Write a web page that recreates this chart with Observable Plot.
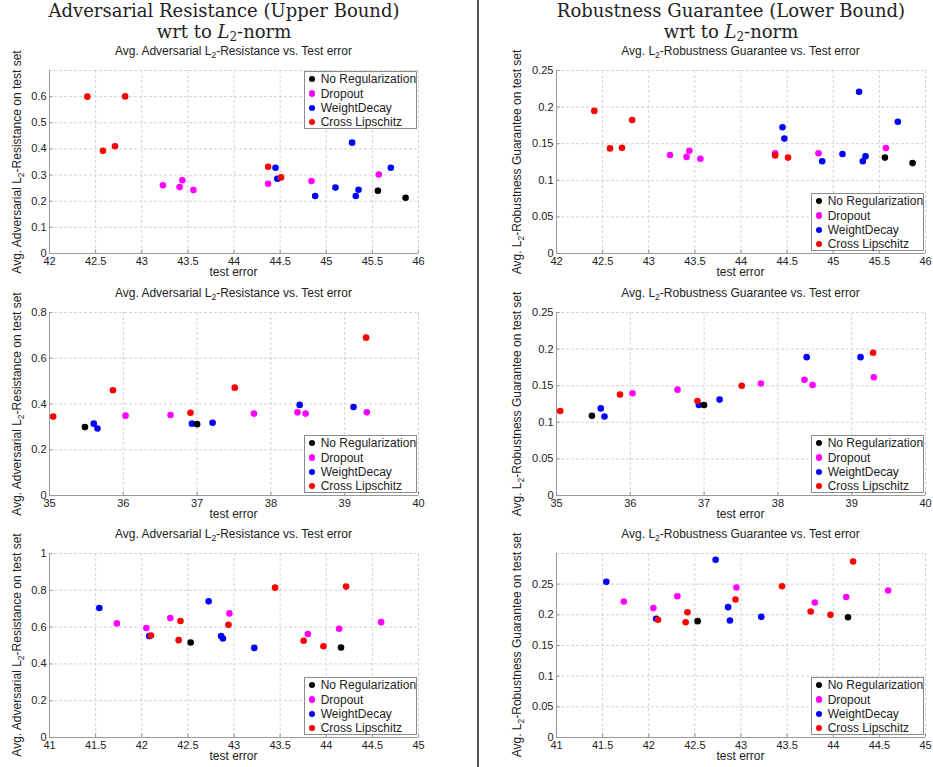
<!DOCTYPE html>
<html><head><meta charset="utf-8">
<script src="https://cdn.jsdelivr.net/npm/d3@7"></script>
<script src="https://cdn.jsdelivr.net/npm/@observablehq/plot@0.6"></script>
<style>
body{margin:0;background:#fff;}
#fig{position:relative;width:933px;height:767px;overflow:hidden;font-family:"Liberation Sans",Arial,sans-serif;color:#222;background:#fff;}
.abs{position:absolute;}
.title{font-family:"DejaVu Serif",serif;font-size:18px;text-align:center;white-space:nowrap;line-height:21px;color:#222;}
.title sub{font-size:12px;vertical-align:-3px;line-height:0;}
.sub{font-size:12px;line-height:14px;white-space:nowrap;text-align:center;}
.sub sub{font-size:8.5px;vertical-align:-3px;line-height:0;}
.ylab{font-size:12px;line-height:14px;height:14px;width:300px;text-align:center;white-space:nowrap;transform:rotate(-90deg);}
.ylab sub{font-size:8.5px;vertical-align:-3px;line-height:0;}
.legend{background:#fff;border:1px solid #8c8c8c;box-sizing:border-box;font-size:12px;}
.legend .row{position:absolute;left:0;white-space:nowrap;line-height:14px;height:14px;}
.legend .dotc{position:absolute;width:6.4px;height:6.4px;border-radius:50%;}
svg{position:absolute;overflow:visible;}
</style>
</head><body>
<div id="fig"></div>
<script>
// ---- categories & colours ----
const categories = ["No Regularization", "Dropout", "WeightDecay", "Cross Lipschitz"];
const colors = ["#000000", "#ff00ff", "#0000ff", "#ff0000"];
const drawOrder = [1, 2, 3, 0];

// ---- Row 1 data (test error, resistance, guarantee) ----
const err1_none = [45.56, 45.86];
const err1_dropout = [43.23, 43.41, 43.44, 43.56, 44.37, 44.84, 45.57];
const err1_wd = [44.45, 44.47, 44.88, 45.10, 45.28, 45.32, 45.35, 45.70];
const err1_cl = [42.41, 42.82, 42.58, 42.71, 44.37, 44.51];
const res1_none = [0.240, 0.213];
const res1_dropout = [0.261, 0.254, 0.280, 0.243, 0.267, 0.277, 0.302];
const res1_wd = [0.328, 0.286, 0.220, 0.252, 0.424, 0.220, 0.244, 0.328];
const res1_cl = [0.600, 0.601, 0.393, 0.410, 0.332, 0.291];
const gua1_none = [0.131, 0.1235];
const gua1_dropout = [0.1345, 0.132, 0.1404, 0.1295, 0.137, 0.137, 0.144];
const gua1_wd = [0.1724, 0.157, 0.126, 0.136, 0.221, 0.126, 0.1327, 0.180];
const gua1_cl = [0.1948, 0.1824, 0.1436, 0.1445, 0.134, 0.131];

// ---- Row 2 data ----
const err2_none = [35.48, 37.00];
const err2_dropout = [36.03, 36.64, 37.77, 38.36, 38.47, 39.30];
const err2_wd = [35.60, 35.65, 36.93, 37.21, 38.39, 39.12];
const err2_cl = [35.05, 35.86, 36.91, 37.51, 39.29];
const res2_none = [0.299, 0.312];
const res2_dropout = [0.349, 0.352, 0.358, 0.3635, 0.358, 0.3635];
const res2_wd = [0.314, 0.293, 0.314, 0.318, 0.396, 0.387];
const res2_cl = [0.345, 0.460, 0.362, 0.4715, 0.690];
const gua2_none = [0.109, 0.1236];
const gua2_dropout = [0.1396, 0.1446, 0.153, 0.158, 0.151, 0.1615];
const gua2_wd = [0.119, 0.108, 0.1236, 0.131, 0.189, 0.189];
const gua2_cl = [0.1154, 0.138, 0.129, 0.150, 0.195];

// ---- Row 3 data ----
const err3_none = [42.53, 44.16];
const err3_dropout = [41.73, 42.05, 42.31, 42.95, 43.80, 44.14, 44.595];
const err3_wd = [41.54, 42.08, 42.725, 42.86, 42.88, 43.22];
const err3_cl = [42.10, 42.40, 42.42, 42.94, 43.445, 43.755, 43.97, 44.215];
const res3_none = [0.516, 0.489];
const res3_dropout = [0.620, 0.595, 0.649, 0.6745, 0.562, 0.591, 0.627];
const res3_wd = [0.704, 0.551, 0.740, 0.551, 0.538, 0.487];
const res3_cl = [0.5545, 0.529, 0.633, 0.613, 0.8145, 0.5255, 0.496, 0.820];
const gua3_none = [0.1897, 0.196];
const gua3_dropout = [0.2217, 0.211, 0.2304, 0.2446, 0.220, 0.229, 0.2397];
const gua3_wd = [0.2538, 0.1935, 0.2897, 0.2125, 0.1908, 0.1967];
const gua3_cl = [0.1918, 0.188, 0.2043, 0.225, 0.2467, 0.2054, 0.200, 0.287];

// ---- tick labels ----
const xTicks1 = [42, 42.5, 43, 43.5, 44, 44.5, 45, 45.5, 46];
const xTicks2 = [35, 36, 37, 38, 39, 40];
const xTicks3 = [41, 41.5, 42, 42.5, 43, 43.5, 44, 44.5, 45];
const yTicksRes1 = [0, 0.1, 0.2, 0.3, 0.4, 0.5, 0.6];
const yTicksRes2 = [0, 0.2, 0.4, 0.6, 0.8];
const yTicksRes3 = [0, 0.2, 0.4, 0.6, 0.8, 1];
const yTicksGua = [0, 0.05, 0.1, 0.15, 0.2, 0.25];

// ---- texts ----
const titleLeft = ["Adversarial Resistance (Upper Bound)", "wrt to <i>L</i><sub>2</sub>-norm"];
const titleRight = ["Robustness Guarantee (Lower Bound)", "wrt to <i>L</i><sub>2</sub>-norm"];
const subLeft = "Avg. Adversarial L<sub>2</sub>-Resistance vs. Test error";
const subRight = "Avg. L<sub>2</sub>-Robustness Guarantee vs. Test error";
const yLabLeft = "Avg. Adversarial L<sub>2</sub>-Resistance on test set";
const yLabRight = "Avg. L<sub>2</sub>-Robustness Guarantee on test set";
const xLab = "test error";

// ---- layout ----
const colFrameLeft = [49, 556], frameW = 369;
const colSvgLeft = [0, 478], colSvgW = [470, 455];
const rowFrameTop = [70, 312, 553], rowFrameH = [183, 183, 184];
const colCenterTitle = [224, 731];
const yLabCx = [17, 517];

function rows(errs, vals) {
  const out = [];
  for (const i of drawOrder) errs[i].forEach((e, j) => out.push({err: e, val: vals[i][j], cat: categories[i]}));
  return out;
}

const panels = [
  {col: 0, row: 0, data: rows([err1_none, err1_dropout, err1_wd, err1_cl], [res1_none, res1_dropout, res1_wd, res1_cl]), xDomain: [42, 46], xTicks: xTicks1, yDomain: [0, 0.7], yTicks: yTicksRes1, legend: "top"},
  {col: 1, row: 0, data: rows([err1_none, err1_dropout, err1_wd, err1_cl], [gua1_none, gua1_dropout, gua1_wd, gua1_cl]), xDomain: [42, 46], xTicks: xTicks1, yDomain: [0, 0.25], yTicks: yTicksGua, legend: "bottom"},
  {col: 0, row: 1, data: rows([err2_none, err2_dropout, err2_wd, err2_cl], [res2_none, res2_dropout, res2_wd, res2_cl]), xDomain: [35, 40], xTicks: xTicks2, yDomain: [0, 0.8], yTicks: yTicksRes2, legend: "bottom"},
  {col: 1, row: 1, data: rows([err2_none, err2_dropout, err2_wd, err2_cl], [gua2_none, gua2_dropout, gua2_wd, gua2_cl]), xDomain: [35, 40], xTicks: xTicks2, yDomain: [0, 0.25], yTicks: yTicksGua, legend: "bottom"},
  {col: 0, row: 2, data: rows([err3_none, err3_dropout, err3_wd, err3_cl], [res3_none, res3_dropout, res3_wd, res3_cl]), xDomain: [41, 45], xTicks: xTicks3, yDomain: [0, 1], yTicks: yTicksRes3, legend: "bottom"},
  {col: 1, row: 2, data: rows([err3_none, err3_dropout, err3_wd, err3_cl], [gua3_none, gua3_dropout, gua3_wd, gua3_cl]), xDomain: [41, 45], xTicks: xTicks3, yDomain: [0, 0.3], yTicks: yTicksGua, legend: "bottom"}
];

const fig = document.getElementById("fig");
function addDiv(cls, html, style) {
  const d = document.createElement("div");
  d.className = "abs " + cls;
  d.innerHTML = html;
  Object.assign(d.style, style);
  fig.appendChild(d);
  return d;
}

// divider
addDiv("", "", {left: "477px", top: "0px", width: "2px", height: "767px", background: "#555"});

// titles
[titleLeft, titleRight].forEach((t, c) => {
  addDiv("title", t.join("<br>"), {left: (colCenterTitle[c] - 250) + "px", width: "500px", top: "0px"});
});

const axisColor = "#999";
const gridStyle = {stroke: "#d4d4d4", strokeOpacity: 1, strokeDasharray: "3,2"};

for (const p of panels) {
  const ft = rowFrameTop[p.row], fh = rowFrameH[p.row];
  const fl = colFrameLeft[p.col];
  const svgLeft = colSvgLeft[p.col], svgW = colSvgW[p.col];
  const mt = 10, mb = 22;
  const [x0, x1] = p.xDomain, [y0, y1] = p.yDomain;
  const yGrid = p.yTicks.includes(y1) ? p.yTicks : [...p.yTicks, y1];
  const xGrid = p.xTicks.includes(x1) ? p.xTicks : [...p.xTicks, x1];
  const chart = Plot.plot({
    width: svgW, height: fh + mt + mb,
    marginLeft: fl - svgLeft, marginRight: svgLeft + svgW - (fl + frameW),
    marginTop: mt, marginBottom: mb,
    x: {domain: p.xDomain, label: null},
    y: {domain: p.yDomain, label: null},
    color: {domain: categories, range: colors},
    style: {fontFamily: '"Liberation Sans", Arial, sans-serif', fontSize: "11px", color: "#222", background: "transparent", overflow: "visible"},
    marks: [
      Plot.gridX(xGrid, gridStyle),
      Plot.gridY(yGrid, gridStyle),
      Plot.ruleX([x0], {stroke: axisColor}),
      Plot.ruleY([y0], {stroke: axisColor}),
      Plot.ruleY(p.yTicks, {y: d => d, x1: x0, x2: x0 + (x1 - x0) * 0.01, stroke: axisColor}),
      Plot.ruleX(p.xTicks, {x: d => d, y1: y0, y2: y0 + (y1 - y0) * 0.02, stroke: axisColor}),
      Plot.axisX(p.xTicks, {tickSize: 0, tickPadding: 4, tickFormat: d => String(d), label: null, fill: "#222"}),
      Plot.axisY(p.yTicks, {tickSize: 0, tickPadding: 3, tickFormat: d => String(d), label: null, fill: "#222"}),
      Plot.dot(p.data, {x: "err", y: "val", fill: "cat", r: 3.3})
    ]
  });
  chart.style.left = svgLeft + "px";
  chart.style.top = (ft - mt) + "px";
  fig.appendChild(chart);

  const cx = fl + frameW / 2;
  // subtitle
  addDiv("sub", p.col === 0 ? subLeft : subRight, {left: (cx - 200) + "px", width: "400px", top: (ft - 26.5) + "px"});
  // x label
  addDiv("sub", xLab, {left: (cx - 100) + "px", width: "200px", top: (ft + fh + 12) + "px"});
  // y label
  addDiv("ylab", p.col === 0 ? yLabLeft : yLabRight, {left: (yLabCx[p.col] - 150) + "px", top: (ft + fh / 2 - 7) + "px"});
  // legend
  const lw = 113, lh = 58;
  const lt = p.legend === "top" ? ft + 1 : ft + fh - 60;
  const lg = addDiv("legend", "", {left: (fl + frameW - 1 - lw) + "px", top: lt + "px", width: lw + "px", height: lh + "px"});
  categories.forEach((c, i) => {
    const cy = 8.3 + 14.3 * i;
    const dot = document.createElement("div");
    dot.className = "dotc";
    Object.assign(dot.style, {left: (6.7 - 3.2) + "px", top: (cy - 3.2 - 1) + "px", background: colors[i]});
    lg.appendChild(dot);
    const r = document.createElement("div");
    r.className = "row";
    r.textContent = c;
    Object.assign(r.style, {left: "15.7px", top: (cy - 7 - 1) + "px"});
    lg.appendChild(r);
  });
}
</script>
</body></html>
